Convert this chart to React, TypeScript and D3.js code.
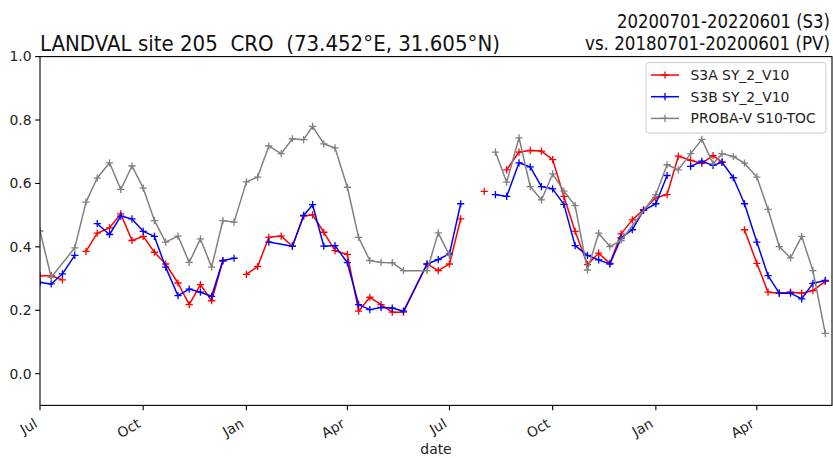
import React from "react";
import * as d3 from "d3";

// Dekad dates (1st, 11th, 21st of each month), Jul 2020 .. Jun 2022
const months = [
  "2020-07", "2020-08", "2020-09", "2020-10", "2020-11", "2020-12",
  "2021-01", "2021-02", "2021-03", "2021-04", "2021-05", "2021-06",
  "2021-07", "2021-08", "2021-09", "2021-10", "2021-11", "2021-12",
  "2022-01", "2022-02", "2022-03", "2022-04", "2022-05",
];
const dekadDays = ["01", "11", "21"];
const dates: string[] = [...months.flatMap((m) => dekadDays.map((d) => `${m}-${d}`)), "2022-06-01"];

// null = no composite for that date (line continues), NaN = invalid (line breaks)
const N = NaN;
const s3a: (number | null)[] = [
  0.309, 0.309, 0.296, N, 0.386, 0.443, 0.46, 0.504, 0.42, 0.433,
  0.383, 0.346, 0.286, 0.218, 0.281, 0.23, 0.355, N, 0.313, 0.338,
  0.43, 0.434, 0.402, 0.497, 0.501, 0.446, 0.388, 0.376, 0.197, 0.241,
  0.218, 0.194, 0.194, null, 0.346, 0.325, 0.346, 0.488, N, 0.575,
  N, 0.643, 0.699, 0.704, 0.702, 0.675, 0.559, 0.449, 0.344, 0.38,
  0.348, 0.441, 0.485, 0.517, 0.555, 0.565, 0.686, 0.673, 0.663, 0.688,
  0.667, N, 0.454, 0.348, 0.257, 0.254, 0.257, 0.254, 0.262, 0.291,
];
const s3b: (number | null)[] = [
  0.288, 0.283, 0.315, 0.373, N, 0.473, 0.439, 0.497, 0.488, 0.449,
  0.433, 0.336, 0.246, 0.267, 0.257, 0.244, 0.357, 0.364, N, N,
  0.415, null, 0.402, 0.499, 0.533, 0.402, 0.404, 0.35, 0.218, 0.202,
  0.209, 0.207, 0.197, null, 0.346, 0.36, 0.378, 0.536, N, N,
  0.565, 0.559, 0.665, 0.652, 0.59, 0.583, 0.534, 0.404, 0.373, 0.359,
  0.346, 0.428, 0.454, 0.515, 0.536, 0.625, N, 0.654, 0.67, 0.657,
  0.667, 0.618, 0.536, 0.415, 0.309, 0.254, 0.254, 0.236, 0.285, 0.294,
];
const pv: (number | null)[] = [
  0.45, 0.304, null, 0.397, 0.541, 0.617, 0.665, 0.581, 0.655, 0.585,
  0.483, 0.415, 0.434, 0.351, 0.425, 0.336, 0.483, 0.478, 0.605, 0.62,
  0.718, 0.694, 0.741, 0.738, 0.78, 0.725, 0.712, 0.588, 0.43, 0.357,
  0.351, 0.35, 0.325, null, 0.325, 0.444, 0.373, N, N, N,
  0.699, 0.604, 0.744, 0.59, 0.548, 0.63, 0.576, 0.53, 0.327, 0.443,
  0.401, 0.42, null, null, 0.565, 0.659, 0.643, 0.694, 0.739, 0.662,
  0.694, 0.685, 0.664, 0.62, 0.518, 0.401, 0.365, 0.433, 0.325, 0.127,
];

const seriesNames = ["S3A SY_2_V10", "S3B SY_2_V10", "PROBA-V S10-TOC"];
const seriesColors = ["#ff0000", "#0000ff", "#808080"];
const seriesValues = [s3a, s3b, pv];

const yTicks = [0.0, 0.2, 0.4, 0.6, 0.8, 1.0];
const xTickDates = ["2020-07-01", "2020-10-01", "2021-01-01", "2021-04-01", "2021-07-01", "2021-10-01", "2022-01-01", "2022-04-01"];
const titleLeft = "LANDVAL site 205  CRO  (73.452°E, 31.605°N)";
const titleRight1 = "20200701-20220601 (S3)";
const titleRight2 = "vs. 20180701-20200601 (PV)";

const W = 833, H = 458;
const L = 40, R = 832, T = 56.6, B = 405.4;
const FONT = "DejaVu Sans, sans-serif";

export default function App() {
  const parse = d3.utcParse("%Y-%m-%d");
  const x0 = parse("2020-07-01")!;
  const x1 = d3.utcDay.offset(x0, 706);
  const x = d3.scaleUtc().domain([x0, x1]).range([L, R]);
  const y = d3.scaleLinear().domain([-0.1, 1.0]).range([B, T]);
  const fmt = d3.format(".1f");
  const mFmt = d3.utcFormat("%b");

  const line = d3
    .line<{ d: Date; v: number }>()
    .defined((p) => !isNaN(p.v))
    .x((p) => x(p.d))
    .y((p) => y(p.v));

  const tickFs = 13.9;
  const h = tickFs * 1.164;
  const desc = tickFs * 0.236;

  return (
    <svg width={W} height={H} style={{ position: "absolute", left: 0, top: 0, background: "#fff" }} fontFamily={FONT}>
      <rect x={0} y={0} width={W} height={H} fill="#fff" />
      <defs>
        <clipPath id="plotclip">
          <rect x={L} y={T} width={R - L} height={B - T} />
        </clipPath>
      </defs>
      <g clipPath="url(#plotclip)">
        {seriesValues.map((vals, si) => {
          const pts = vals
            .map((v, i) => ({ d: parse(dates[i])!, v: v as number, keep: v !== null }))
            .filter((p) => p.keep);
          return (
            <g key={si}>
              <path d={line(pts) || ""} fill="none" stroke={seriesColors[si]} strokeWidth={1.5} strokeLinejoin="round" />
              {pts
                .filter((p) => !isNaN(p.v))
                .map((p, k) => {
                  const cx = x(p.d), cy = y(p.v), s = 3.6;
                  return (
                    <path key={k} d={`M${cx - s},${cy}H${cx + s}M${cx},${cy - s}V${cy + s}`} stroke={seriesColors[si]} strokeWidth={1.3} />
                  );
                })}
            </g>
          );
        })}
      </g>
      {/* spines */}
      <rect x={L} y={T} width={R - L} height={B - T} fill="none" stroke="#000" strokeWidth={1.1} />
      {/* y ticks */}
      {yTicks.map((t) => (
        <g key={t}>
          <line x1={L - 4.9} x2={L} y1={y(t)} y2={y(t)} stroke="#000" strokeWidth={1.1} />
          <text x={L - 8.5} y={y(t)} dy="0.35em" textAnchor="end" fontSize={tickFs} fill="#222">{fmt(t)}</text>
        </g>
      ))}
      {/* x ticks */}
      {xTickDates.map((ds) => {
        const d = parse(ds)!;
        const ax = x(d);
        const ay = B + 4.9 + 4.9;
        return (
          <g key={ds}>
            <line x1={ax} x2={ax} y1={B} y2={B + 4.9} stroke="#000" strokeWidth={1.1} />
            <g transform={`translate(${ax},${ay + h * Math.cos(Math.PI / 6)}) rotate(-30)`}>
              <text x={0} y={-desc} textAnchor="end" fontSize={tickFs} fill="#222">{mFmt(d)}</text>
            </g>
          </g>
        );
      })}
      <text x={(L + R) / 2} y={454} textAnchor="middle" fontSize={tickFs} fill="#222">date</text>
      {/* titles */}
      <text x={L} y={50.5} fontSize={22} fill="#111" xmlSpace="preserve" style={{ whiteSpace: "pre" }} textLength={460} lengthAdjust="spacingAndGlyphs">{titleLeft}</text>
      <text x={R - 2} y={28} textAnchor="end" fontSize={19} fill="#111" textLength={213} lengthAdjust="spacingAndGlyphs">{titleRight1}</text>
      <text x={R - 2} y={50} textAnchor="end" fontSize={19} fill="#111" textLength={245} lengthAdjust="spacingAndGlyphs">{titleRight2}</text>
      {/* legend */}
      <g>
        <rect x={646} y={62.5} width={180} height={70.5} rx={3} fill="#fff" fillOpacity={0.8} stroke="#cccccc" strokeWidth={1} />
        {seriesNames.map((n, i) => {
          const ly = 75 + i * 21.7;
          return (
            <g key={n}>
              <line x1={651} x2={679} y1={ly} y2={ly} stroke={seriesColors[i]} strokeWidth={1.5} />
              <path d={`M${665 - 3.6},${ly}H${665 + 3.6}M${665},${ly - 3.6}V${ly + 3.6}`} stroke={seriesColors[i]} strokeWidth={1.3} />
              <text x={690.5} y={ly} dy="0.36em" fontSize={tickFs} fill="#222">{n}</text>
            </g>
          );
        })}
      </g>
    </svg>
  );
}
